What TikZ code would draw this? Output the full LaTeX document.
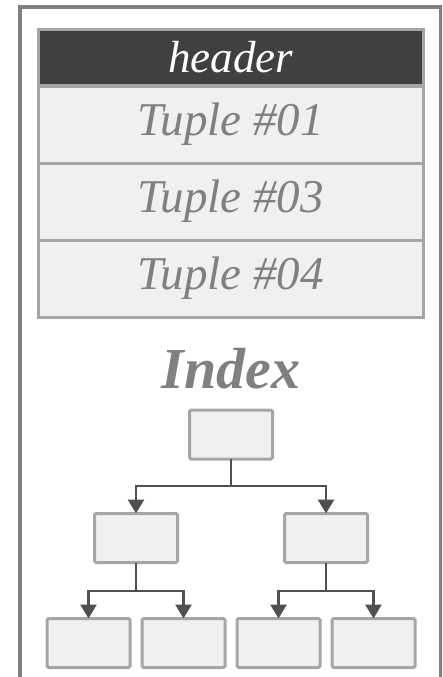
\documentclass[tikz,border=0pt]{standalone}
\usepackage{fontspec}
\setmainfont{Liberation Serif}
\usetikzlibrary{arrows.meta}
\definecolor{frameg}{HTML}{808080}
\definecolor{hdrfill}{HTML}{404040}
\definecolor{boxfill}{HTML}{F0F0F0}
\definecolor{boxline}{HTML}{A6A6A6}
\definecolor{txtg}{HTML}{808080}
\definecolor{arrg}{HTML}{505050}
\begin{document}
\begin{tikzpicture}[x=1pt,y=-1pt,
  frame/.style={draw=frameg,line width=4pt},
  hdr/.style={draw=boxline,line width=3pt,fill=hdrfill,text=white,minimum width=385pt,minimum height=55pt,inner sep=0pt,outer sep=0pt,font=\fontsize{45}{45}\selectfont\itshape},
  row/.style={draw=boxline,line width=3pt,fill=boxfill,text=txtg,minimum width=385pt,minimum height=77pt,inner sep=0pt,outer sep=0pt,font=\fontsize{47}{47}\selectfont\itshape},
  tbox/.style={draw=boxline,line width=3pt,fill=boxfill,rounded corners=1.5pt,minimum width=83pt,minimum height=49pt,inner sep=0pt,outer sep=0pt},
  arr/.style={draw=arrg,line width=2.8pt,-{Triangle[width=16pt,length=14pt]}},
  lnk/.style={draw=arrg,line width=2.8pt}]
\useasboundingbox (0,0) rectangle (442,677);
\begin{scope}
\clip (0,0) rectangle (442,677);
\draw[frame] (20,7) rectangle (440.5,700);
\end{scope}
\node[row] (t4) at (230.5,278.5) {Tuple \#04};
\node[row] (t3) at (230.5,201.5) {Tuple \#03};
\node[row] (t1) at (230.5,124.5) {Tuple \#01};
\node[hdr] (header) at (230.5,57.5) {header};
\node[text=txtg,font=\fontsize{58}{58}\selectfont\bfseries\itshape,inner sep=0pt] (idx) at (231,369) {Index};
\node[tbox] (root) at (231,434.5) {};
\node[tbox] (l2a) at (136,538) {};
\node[tbox] (l2b) at (326,538) {};
\node[tbox] (la) at (88.5,643) {};
\node[tbox] (lb) at (183.5,643) {};
\node[tbox] (lc) at (278.5,643) {};
\node[tbox] (ld) at (373.5,643) {};
\coordinate (j1) at (231,486);
\coordinate (j2) at (136,591);
\coordinate (j3) at (326,591);
\draw[lnk] (root.south) -- (j1);
\draw[arr] (j1) -| (l2a.north);
\draw[arr] (j1) -| (l2b.north);
\draw[lnk] (l2a.south) -- (j2);
\draw[arr] (j2) -| (la.north);
\draw[arr] (j2) -| (lb.north);
\draw[lnk] (l2b.south) -- (j3);
\draw[arr] (j3) -| (lc.north);
\draw[arr] (j3) -| (ld.north);
\end{tikzpicture}
\end{document}
